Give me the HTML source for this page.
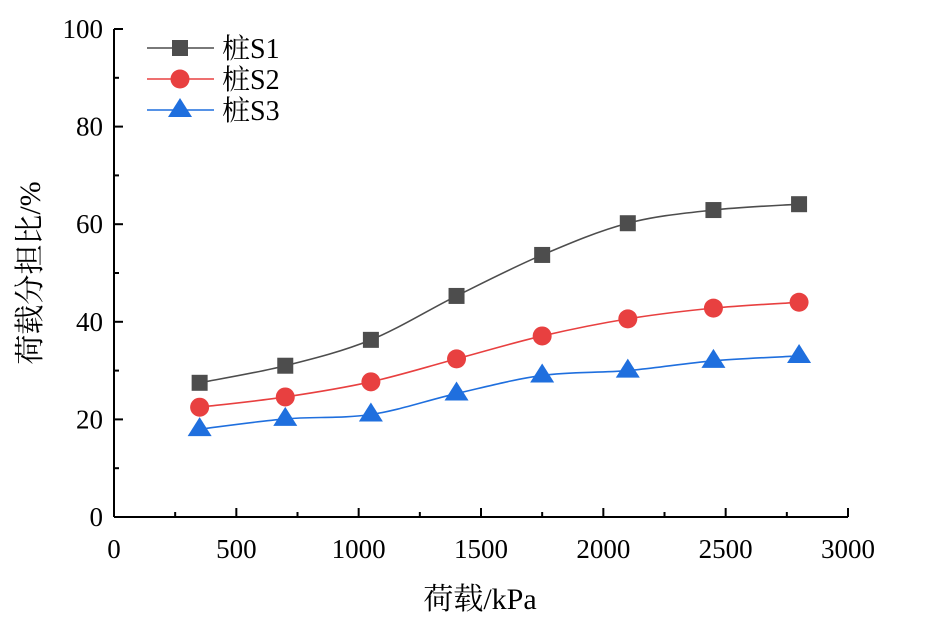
<!DOCTYPE html>
<html><head><meta charset="utf-8"><style>
body{margin:0;background:#fff;}
svg{display:block;font-family:"Liberation Serif","Noto Serif CJK SC",serif;}
</style></head><body>
<svg id="chart" width="939" height="624" xmlns="http://www.w3.org/2000/svg">
<g id="axes"></g>
<g id="series"></g>
<g id="legend"></g>
<text x="480" y="609" text-anchor="middle" font-size="30">荷载/kPa</text>
<text transform="translate(40,273) rotate(-90)" text-anchor="middle" font-size="30">荷载分担比/%</text>
</svg>
<script>
const categories=[350,700,1050,1400,1750,2100,2450,2800];
const s1=[27.5,31,36.3,45.3,53.7,60.2,62.9,64.1];
const s2=[22.5,24.6,27.7,32.4,37.1,40.6,42.8,44];
const s3=[18,20.1,21,25.3,29,30,32,33];
const xTicks=[0,500,1000,1500,2000,2500,3000];
const yTicks=[0,20,40,60,80,100];
const names=["桩S1","桩S2","桩S3"];
const NS="http://www.w3.org/2000/svg";
const X0=114,X1=848,Y0=517,Y1=29;
const xs=v=>X0+(v/3000)*(X1-X0);
const ys=v=>Y0-(v/100)*(Y0-Y1);
function mk(tag,attrs,parent){const e=document.createElementNS(NS,tag);for(const k in attrs)e.setAttribute(k,attrs[k]);parent.appendChild(e);return e;}
const ax=document.getElementById('axes');
let l=mk('line',{x1:X0,y1:Y0,x2:X1,y2:Y0,stroke:'#000','stroke-width':2},ax);


l=mk('line',{x1:X0,y1:Y0,x2:X0,y2:Y1,stroke:'#000','stroke-width':2},ax);


for(let v=0;v<=3000;v+=250){const major=v%500===0;const t=mk('line',{x1:xs(v),y1:Y0,x2:xs(v),y2:Y0-(major?9:5),stroke:'#000','stroke-width':2},ax);

}
for(let v=0;v<=100;v+=10){const major=v%20===0;const t=mk('line',{x1:X0,y1:ys(v),x2:X0+(major?9:5),y2:ys(v),stroke:'#000','stroke-width':2},ax);

}
xTicks.forEach(v=>{const t=mk('text',{x:xs(v),y:558,'text-anchor':'middle','font-size':27},ax);t.textContent=v;

});
yTicks.forEach(v=>{const t=mk('text',{x:103,y:ys(v)+9,'text-anchor':'end','font-size':27},ax);t.textContent=v;

});
function spline(p){let d=`M${p[0][0]},${p[0][1]}`;for(let i=0;i<p.length-1;i++){const a=p[i-1]||p[i],b=p[i],c=p[i+1],e=p[i+2]||c;
d+=` C${b[0]+(c[0]-a[0])/6},${b[1]+(c[1]-a[1])/6} ${c[0]-(e[0]-b[0])/6},${c[1]-(e[1]-b[1])/6} ${c[0]},${c[1]}`;}return d;}
function marker(type,x,y,color,g){let m;
if(type===0)m=mk('rect',{x:x-8,y:y-8,width:16,height:16,fill:color},g);
else if(type===1)m=mk('circle',{cx:x,cy:y,r:9.5,fill:color},g);
else m=mk('polygon',{points:`${x},${y-12} ${x-12},${y+7} ${x+12},${y+7}`,fill:color},g);
return m;}
const colors=["#4d4d4d","#e84040","#1f6fde"];
const lineColors=["#4d4d4d","#e84040","#1f6fde"];
const sg=document.getElementById('series');
[s1,s2,s3].forEach((s,k)=>{
const g=mk('g',{},sg);


const pts=categories.map((c,i)=>[xs(c),ys(s[i])]);
const p=mk('path',{d:spline(pts),fill:'none',stroke:lineColors[k],'stroke-width':1.6},g);


pts.forEach(pt=>{const m=marker(k,pt[0],pt[1],colors[k],g);

});
});
const lg=document.getElementById('legend');
names.forEach((n,k)=>{const y=48+k*31;const g=mk('g',{},lg);


mk('line',{x1:147,y1:y,x2:214,y2:y,stroke:lineColors[k],'stroke-width':1.6},g);
marker(k,180,y,colors[k],g);
const t=mk('text',{x:222,y:y+10,'font-size':28},g);t.textContent=n;});
</script>
</body></html>
